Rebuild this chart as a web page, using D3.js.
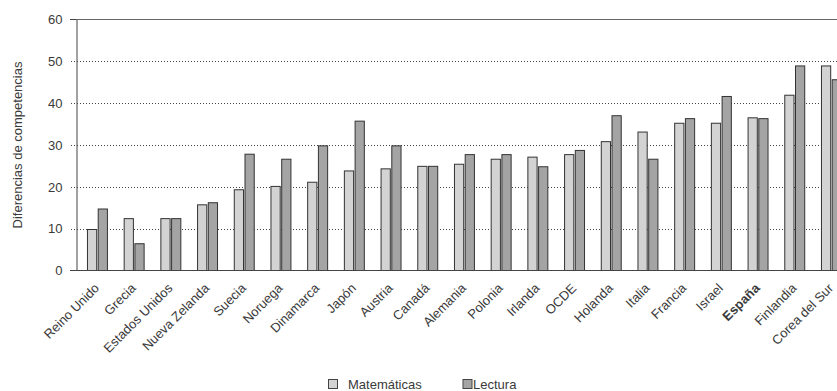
<!DOCTYPE html>
<html><head><meta charset="utf-8">
<script src="https://cdn.jsdelivr.net/npm/d3@7"></script>
<style>
html,body{margin:0;padding:0;background:#fff;overflow:hidden;}
svg{display:block;font-family:"Liberation Sans",Arial,sans-serif;}
</style></head>
<body>
<svg id="chart" width="837" height="391"></svg>
<script>
const categories = ["Reino Unido","Grecia","Estados Unidos","Nueva Zelanda","Suecia","Noruega","Dinamarca","Japón","Austria","Canadá","Alemania","Polonia","Irlanda","OCDE","Holanda","Italia","Francia","Israel","España","Finlandia","Corea del Sur"];
const matematicas = [9.8,12.4,12.4,15.7,19.3,20.1,21.1,23.8,24.3,24.9,25.4,26.6,27.1,27.7,30.8,33.1,35.2,35.2,36.5,41.9,48.9];
const lectura = [14.7,6.4,12.4,16.2,27.8,26.6,29.8,35.7,29.8,24.9,27.7,27.7,24.8,28.7,37.0,26.6,36.3,41.6,36.3,48.9,45.6];
const seriesNames = ["Matemáticas","Lectura"];
const yTicks = [0,10,20,30,40,50,60];
const yTitle = "Diferencias de competencias";

const colors = {"Matemáticas":"#d3d3d3","Lectura":"#a4a4a4"};
const textColor = "#3a3a3a";

const svg = d3.select("#chart");
const axisX = 76;
const x = d3.scaleBand().domain(categories).range([78.6, 849.3]).padding(0);
const xs = d3.scaleBand().domain(seriesNames).range([0, x.bandwidth()]).paddingInner(0.14).paddingOuter(0.78);
const y = d3.scaleLinear().domain([0,60]).range([270.5, 19.5]);

const data = categories.map((c,i)=>({cat:c, vals:[{k:"Matemáticas",v:matematicas[i]},{k:"Lectura",v:lectura[i]}]}));

// gridlines (dotted) for 10..50
const gridG = svg.append("g");
gridG.selectAll("line").data(yTicks.filter(t=>t>0 && t<60)).join("line")
  .attr("x1", 71).attr("x2", 837)
  .attr("y1", d=>Math.round(y(d))+0.5).attr("y2", d=>Math.round(y(d))+0.5)
  .attr("stroke","#444").attr("stroke-width",1).attr("stroke-dasharray","1,2");

// top frame line
svg.append("line").attr("x1",70).attr("x2",837).attr("y1",y(60)).attr("y2",y(60))
  .attr("stroke","#666").attr("stroke-width",1.2);

// y axis
const yAxis = d3.axisLeft(y).tickValues(yTicks).tickSize(0).tickPadding(14);
const yg = svg.append("g").attr("transform",`translate(${axisX+0.5},0)`).call(yAxis);
yg.select(".domain").attr("stroke","#444");
yg.selectAll(".tick text").attr("font-size","13px").attr("fill",textColor).attr("font-family","Liberation Sans, Arial, sans-serif");

// bars
const groups = svg.append("g").selectAll("g").data(data).join("g")
  .attr("transform", d=>`translate(${x(d.cat)},0)`);
groups.selectAll("rect").data(d=>d.vals).join("rect")
  .attr("x", d=>xs(d.k)+0.5)
  .attr("width", xs.bandwidth())
  .attr("y", d=>y(d.v))
  .attr("height", d=>y(0)-y(d.v))
  .attr("fill", d=>colors[d.k])
  .attr("stroke","#333").attr("stroke-width",1);

// x axis baseline
svg.append("line").attr("x1",70).attr("x2",837).attr("y1",y(0)).attr("y2",y(0))
  .attr("stroke","#444").attr("stroke-width",1.2);
// small left tick marks
svg.append("g").selectAll("line").data([0,60]).join("line")
  .attr("x1",70).attr("x2",axisX).attr("y1",d=>y(d)).attr("y2",d=>y(d))
  .attr("stroke","#444");

// x labels
svg.append("g").selectAll("text").data(categories).join("text")
  .attr("transform", d=>`translate(${x(d)+x.bandwidth()/2+3},289) rotate(-45)`)
  .attr("text-anchor","end")
  .attr("font-size","13px")
  .attr("font-weight", d=> d==="España" ? "bold" : "normal")
  .attr("fill",textColor)
  .text(d=>d);

// y title
svg.append("text").attr("transform","translate(22,145) rotate(-90)")
  .attr("text-anchor","middle").attr("font-size","13px").attr("fill",textColor)
  .text(yTitle);

// legend
const legendPos = [{k:"Matemáticas", sx:328, tx:348},{k:"Lectura", sx:462.5, tx:473}];
const lg = svg.append("g");
lg.selectAll("rect").data(legendPos).join("rect")
  .attr("x",d=>d.sx+0.5).attr("y",379.5).attr("width",9).attr("height",9)
  .attr("fill",d=>colors[d.k]).attr("stroke","#444");
lg.selectAll("text").data(legendPos).join("text")
  .attr("x",d=>d.tx).attr("y",388.5).attr("font-size","13px").attr("fill",textColor)
  .text(d=>d.k);
</script>
</body></html>
